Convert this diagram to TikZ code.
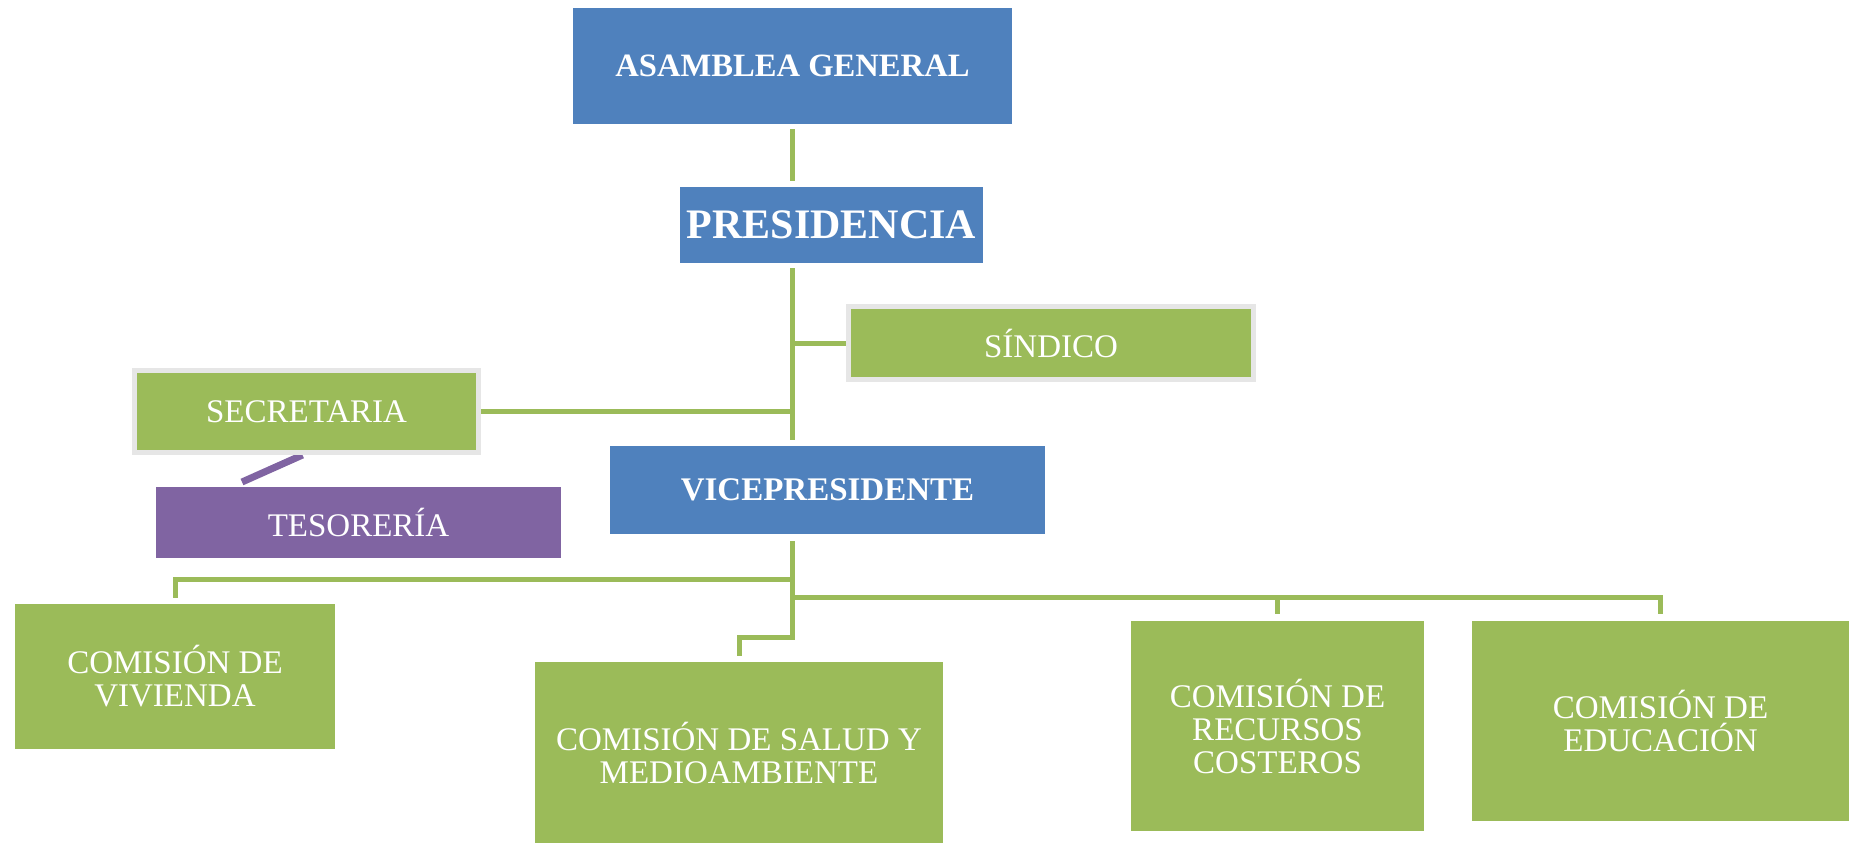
\documentclass[tikz,border=0pt]{standalone}
\usepackage{fontspec}
\setmainfont{Liberation Serif}
\usetikzlibrary{backgrounds}
\definecolor{orgblue}{RGB}{79,129,189}
\definecolor{orggreen}{RGB}{155,187,89}
\definecolor{orgpurple}{RGB}{128,100,162}
\definecolor{framegray}{RGB}{230,230,230}

\begin{document}
\begin{tikzpicture}[x=0.5pt,y=-0.5pt,
	box/.style={inner sep=0pt,text=white,align=center,
		font=\fontsize{16.5}{16.5}\selectfont},
	bluebox/.style={box,fill=orgblue},
	greenbox/.style={box,fill=orggreen},
	framedbox/.style={greenbox,draw=framegray,line width=2.5pt},
	purplebox/.style={box,fill=orgpurple},
	link/.style={orggreen,line width=2.5pt}]
	
	% we fix the size of the page
	\useasboundingbox (0,0) rectangle (1856,843);
	
	% we draw the blue boxes
	\node[bluebox,minimum width=219.5pt,minimum height=58pt,
	font=\bfseries\fontsize{16.3}{16.3}\selectfont] (asamblea) at (792.5,66) {ASAMBLEA GENERAL};
	\node[bluebox,minimum width=151.5pt,minimum height=38pt,
	font=\bfseries\fontsize{21}{21}\selectfont] (presidencia) at (831.5,225) {PRESIDENCIA};
	\node[bluebox,minimum width=217.5pt,minimum height=44pt,
	font=\bfseries\fontsize{16.5}{16.5}\selectfont] (vice) at (827.5,490) {VICEPRESIDENTE};
	
	% we draw the framed boxes and the purple one
	\node[framedbox,minimum width=202.75pt,minimum height=36.75pt] (sindico) at (1051,343) {SÍNDICO};
	\node[framedbox,minimum width=172pt,minimum height=41pt] (secretaria) at (306.5,411.5) {SECRETARIA};
	\node[purplebox,minimum width=202.5pt,minimum height=35.5pt] (tesoreria) at (358.5,522.5) {TESORERÍA};
	
	% we draw the boxes of the comisiones
	\node[greenbox,minimum width=160pt,minimum height=72.5pt] (vivienda) at (175,676.5)
	{COMISIÓN DE\\VIVIENDA};
	\node[greenbox,minimum width=204pt,minimum height=90.5pt] (salud) at (739,752.5)
	{COMISIÓN DE SALUD Y\\MEDIOAMBIENTE};
	\node[greenbox,minimum width=146.5pt,minimum height=105pt] (recursos) at (1277.5,726)
	{COMISIÓN DE\\RECURSOS\\COSTEROS};
	\node[greenbox,minimum width=188.5pt,minimum height=100pt] (educacion) at (1660.5,721)
	{COMISIÓN DE\\EDUCACIÓN};
	
	% we draw the connectors behind the boxes
	\begin{scope}[on background layer]
		\draw[link] ([yshift=-2.5pt]asamblea.south) -- ([yshift=3pt]asamblea.south |- presidencia.north);
		\draw[link] ([yshift=-2.5pt]asamblea.south |- presidencia.south) -- ([yshift=3pt]asamblea.south |- vice.north);
		\draw[link] (sindico.west) -- (sindico.west -| asamblea.south);
		\draw[link] (secretaria.east) -- (secretaria.east -| asamblea.south);
		% the purple stroke below secretaria
		\coordinate (tesotip) at (242,482);
		\draw[orgpurple,line width=3.5pt] ([xshift=-2pt]secretaria.south) -- (tesotip);
		
		% the rails down to the comisiones
		\coordinate (split) at (792.5,637);
		\coordinate (leftrail) at (792.5,579);
		\coordinate (rightrail) at (792.5,597);
		\draw[link] ([yshift=-3.5pt]asamblea.south |- vice.south) -- (split)
		-| ([yshift=3pt]salud.north);
		\draw[link] (leftrail) -| ([yshift=3pt]vivienda.north);
		\draw[link] (rightrail) -| ([yshift=3.5pt]educacion.north);
		\draw[link] (rightrail -| recursos.north) -- ([yshift=3.5pt]recursos.north);
	\end{scope}
\end{tikzpicture}
\end{document}
